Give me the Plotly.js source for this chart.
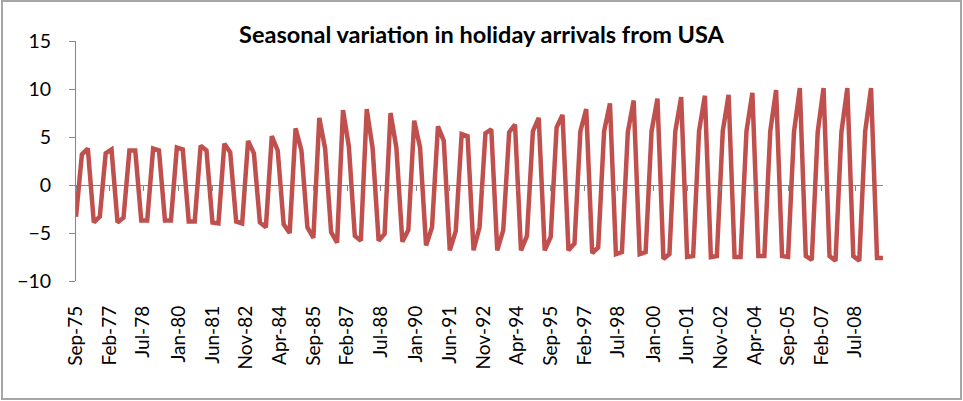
<!DOCTYPE html>
<html>
<head>
<meta charset="utf-8">
<script src="https://cdn.plot.ly/plotly-3.0.1.min.js"></script>
<style>
  html, body { margin: 0; padding: 0; background: #ffffff; }
  #frame { position: absolute; left: 1px; top: 0px; width: 961px; height: 400px;
           border: 2px solid #a6a6a6; box-sizing: border-box; background: #ffffff; }
  #chart { width: 957px; height: 396px; }
</style>
</head>
<body>
<div id="frame"><div id="chart"></div></div>
<script>
// ---- data ----
const chartTitle = 'Seasonal variation in holiday arrivals from USA';
const firstQuarter = '1975-09';   // first observation (quarterly series)
const seasonalValues = [
  -3.3, 3.2, 3.8, -3.9, -3.3, 3.3, 3.7, -3.9, -3.4, 3.6,
  3.6, -3.7, -3.7, 3.8, 3.6, -3.7, -3.7, 3.9, 3.7, -3.8,
  -3.8, 4.1, 3.6, -3.9, -4.0, 4.3, 3.4, -3.8, -4.0, 4.6,
  3.3, -3.9, -4.4, 5.1, 3.6, -4.1, -5.0, 5.9, 3.6, -4.4,
  -5.5, 7.0, 3.8, -4.9, -6.0, 7.8, 4.0, -5.3, -5.8, 7.9,
  3.8, -5.8, -5.1, 7.5, 3.9, -5.9, -4.7, 6.7, 3.9, -6.3,
  -4.4, 6.1, 4.6, -6.8, -4.8, 5.3, 5.1, -6.8, -4.4, 5.4,
  5.8, -6.8, -4.7, 5.5, 6.3, -6.8, -5.3, 5.6, 7.0, -6.8,
  -5.4, 6.0, 7.3, -6.8, -6.1, 5.6, 7.9, -7.1, -6.5, 5.6,
  8.5, -7.2, -7.0, 5.5, 8.8, -7.2, -7.0, 5.6, 9.0, -7.7,
  -7.2, 5.6, 9.15, -7.5, -7.4, 5.6, 9.3, -7.5, -7.4, 5.6,
  9.4, -7.5, -7.5, 5.6, 9.6, -7.4, -7.4, 5.6, 9.9, -7.4,
  -7.5, 5.5, 10.1, -7.4, -7.8, 5.5, 10.1, -7.4, -7.9, 5.5,
  10.1, -7.4, -7.9, 5.6, 10.1, -7.6, -7.6
];
const tickLabels = ['Sep-75','Feb-77','Jul-78','Jan-80','Jun-81','Nov-82','Apr-84','Sep-85',
  'Feb-87','Jul-88','Jan-90','Jun-91','Nov-92','Apr-94','Sep-95','Feb-97','Jul-98',
  'Jan-00','Jun-01','Nov-02','Apr-04','Sep-05','Feb-07','Jul-08'];
const yTicks = [-10, -5, 0, 5, 10, 15];

// ---- helpers ----
const MONTHS = ['Jan','Feb','Mar','Apr','May','Jun','Jul','Aug','Sep','Oct','Nov','Dec'];
function pad(n){ return (n < 10 ? '0' : '') + n; }
function labelToDate(lbl){
  const [m, yy] = lbl.split('-');
  const y2 = parseInt(yy, 10);
  const year = y2 >= 50 ? 1900 + y2 : 2000 + y2;
  return year + '-' + pad(MONTHS.indexOf(m) + 1) + '-01';
}
function quarterDate(i){
  const [y0, m0] = firstQuarter.split('-').map(Number);
  const total = (m0 - 1) + 3 * i;
  return (y0 + Math.floor(total / 12)) + '-' + pad(total % 12 + 1) + '-01';
}
const xDates = seasonalValues.map((_, i) => quarterDate(i));
const tickDates = tickLabels.map(labelToDate);
const xRange = [xDates[0], xDates[xDates.length - 1]];

const FONT = 'Lato, "Open Sans", sans-serif';
const AXIS = '#868686';
const RED = '#C0504D';

const traces = [
  { x: xDates, y: seasonalValues, type: 'scatter', mode: 'lines',
    line: { color: RED, width: 4.5 }, hoverinfo: 'skip', showlegend: false },
  { x: xDates, y: seasonalValues, type: 'scatter', mode: 'lines', xaxis: 'x2', yaxis: 'y',
    line: { color: RED, width: 0 }, opacity: 0, hoverinfo: 'skip', showlegend: false }
];

const layout = {
  width: 957, height: 396,
  margin: { l: 73, r: 77, t: 39, b: 117 },
  paper_bgcolor: '#ffffff', plot_bgcolor: 'rgba(0,0,0,0)',
  showlegend: false,
  title: { text: chartTitle, font: { family: FONT, size: 23.5, color: '#000000', weight: 'bold' },
           x: 0.5, xanchor: 'center', xref: 'container',
           y: 0.916, yanchor: 'middle', yref: 'container' },
  xaxis: {
    type: 'date', range: xRange, tickmode: 'array', tickvals: tickDates, ticktext: tickLabels,
    tickangle: -90, ticks: '', showline: false, showgrid: false, zeroline: false,
    ticklabelstandoff: 20,
    tickfont: { family: FONT, size: 19, color: '#000000' }
  },
  xaxis2: {
    type: 'date', range: xRange, overlaying: 'x', anchor: 'free', position: 0.4,
    tickmode: 'array', tickvals: tickDates, ticks: 'outside', ticklen: 5, tickwidth: 1,
    tickcolor: AXIS, showticklabels: false, showline: false, showgrid: false, zeroline: false
  },
  yaxis: {
    range: [-10, 15], tickmode: 'array', tickvals: yTicks,
    ticks: 'outside', ticklen: 6, tickwidth: 1, tickcolor: AXIS,
    showline: true, linecolor: AXIS, linewidth: 1, showgrid: false,
    zeroline: true, zerolinecolor: AXIS, zerolinewidth: 1,
    ticklabelstandoff: 14,
    tickfont: { family: FONT, size: 19.5, color: '#000000' }
  }
};

Plotly.newPlot('chart', traces, layout, { staticPlot: true, displayModeBar: false });
</script>
</body>
</html>
